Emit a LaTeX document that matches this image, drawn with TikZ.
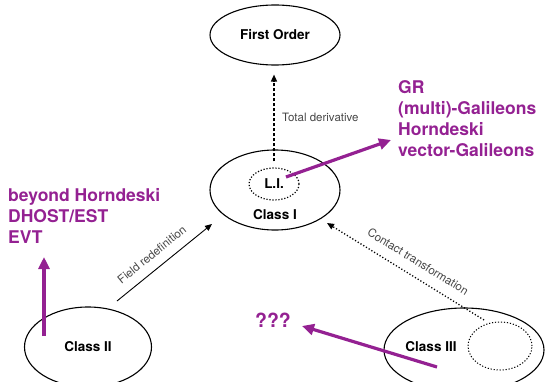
\documentclass[tikz,border=0pt]{standalone}
\usepackage{fontspec}
\setmainfont{TeX Gyre Heros}
\usetikzlibrary{shapes.geometric,arrows.meta}
\definecolor{kpurple}{RGB}{148,33,146}
\definecolor{lblgray}{RGB}{70,70,70}
\begin{document}
\begin{tikzpicture}[x=1pt,y=-1pt,
  ell/.style={draw, ellipse, line width=1.1pt, inner sep=0},
  dotell/.style={draw, ellipse, line width=1.2pt, inner sep=0, dash pattern=on 1.2pt off 1.8pt},
  cls/.style={font=\fontsize{13.5}{16}\selectfont\bfseries},
  lbl/.style={font=\fontsize{11.5}{13}\selectfont, text=lblgray, inner sep=0},
  ptxt/.style={font=\fontsize{17.5}{21}\selectfont\bfseries, text=kpurple, align=left, inner sep=0},
  parrow/.style={draw=kpurple, line width=3.2pt, -{Triangle[length=12pt,width=11pt]}},
  blarrow/.style={-{Triangle[length=7pt,width=6pt]}},
]
\useasboundingbox (0,0) rectangle (545,382);

% nodes
\node[ell, cls, minimum width=130pt, minimum height=60pt] (fo) at (275,35) {First Order};
\node[ell, minimum width=130pt, minimum height=80pt] (c1) at (275,190) {};
\node[cls] (c1l) at (275,215) {Class I};
\node[dotell, cls, minimum width=50pt, minimum height=32pt] (li) at (274,184) {L.I.};
\node[ell, cls, minimum width=127pt, minimum height=80pt] (c2) at (88,347) {Class II};
\node[ell, minimum width=160pt, minimum height=84pt] (c3) at (464,350) {};
\node[cls] (c3l) at (431,347) {Class III};
\node[dotell, line width=1pt, minimum width=64pt, minimum height=48pt] (c3in) at (500,346) {};

\node[ptxt, anchor=north west] (gr) at (398,80) {GR\\(multi)-Galileons\\Horndeski\\vector-Galileons};
\node[ptxt, anchor=north west] (bh) at (8,188) {beyond Horndeski\\DHOST/EST\\EVT};
\node[font=\fontsize{19.5}{22}\selectfont\bfseries, text=kpurple, inner sep=0] (qq) at (273,320) {???};

% coordinates for free connector ends
\coordinate (fr1) at (117,301);
\coordinate (fr2) at (212,224);
\coordinate (ct1) at (484,320);
\coordinate (ct2) at (327,223);
\coordinate (p1s) at (286,177);
\coordinate (p1e) at (391,140);
\coordinate (p2s) at (44,336);
\coordinate (p2e) at (44,257);
\coordinate (p3s) at (437,367);
\coordinate (p3e) at (302,326);

% connectors
\draw[blarrow, line width=1.4pt, dash pattern=on 3pt off 2pt, shorten <=6pt, shorten >=9pt]
  (li.north) -- (li.north |- fo.south);
\node[lbl, anchor=base west] (td) at (282,122) {Total derivative};

\draw[blarrow, line width=0.9pt] (fr1) -- node[lbl, sloped, above=9.5pt, pos=0.46] (frl) {Field redefinition} (fr2);
\draw[blarrow, line width=1.3pt, dash pattern=on 1.2pt off 2pt] (ct1) -- node[lbl, sloped, above=10pt, pos=0.47] (ctl) {Contact transformation} (ct2);

\draw[parrow] (p1s) -- (p1e);
\draw[parrow] (p2s) -- (p2e);
\draw[parrow] (p3s) -- (p3e);
\end{tikzpicture}
\end{document}
